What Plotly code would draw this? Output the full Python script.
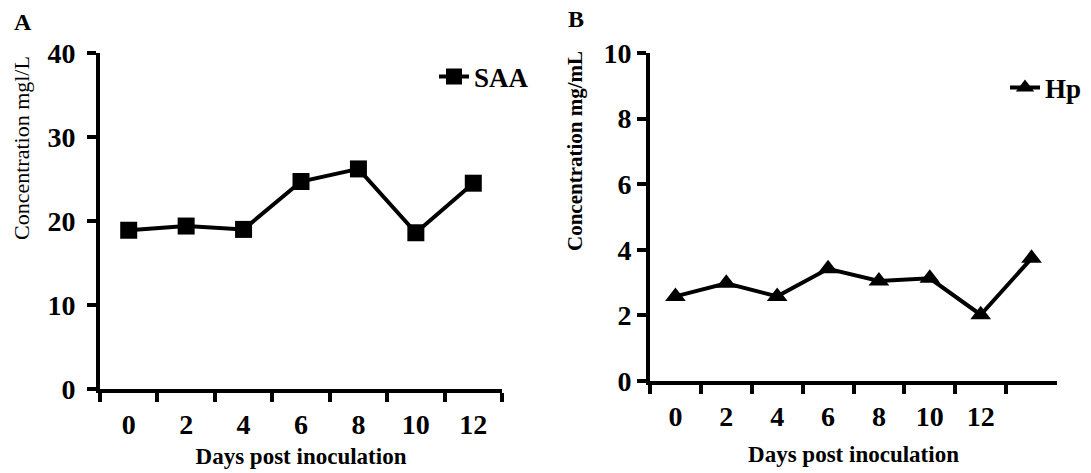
import plotly.graph_objects as go

days_a = ["0", "2", "4", "6", "8", "10", "12"]
saa = [18.9, 19.4, 19.0, 24.7, 26.2, 18.6, 24.5]

days_b = ["0", "2", "4", "6", "8", "10", "12", " "]
hp = [2.58, 2.98, 2.58, 3.42, 3.05, 3.13, 2.02, 3.74]

W, H = 1091, 473
FONT = "Liberation Serif"

fig = go.Figure()
fig.add_trace(go.Scatter(
    x=days_a, y=saa, mode="lines+markers", name="SAA", showlegend=True,
    line=dict(color="black", width=4),
    marker=dict(symbol="square", size=17, color="black"),
    xaxis="x", yaxis="y", legend="legend"))
fig.add_trace(go.Scatter(
    x=days_b, y=hp, mode="lines+markers", name="Hp", showlegend=True,
    line=dict(color="black", width=4),
    marker=dict(symbol="triangle-up", size=18, color="black"),
    xaxis="x2", yaxis="y2", legend="legend2"))

def px_x(p):
    return p / W

def px_y(p):
    return 1 - p / H

common_x = dict(type="category", tickson="boundaries", showline=True, linewidth=4,
                linecolor="black", ticks="outside", ticklen=9, tickwidth=4,
                tickcolor="black", showgrid=False, zeroline=False, automargin=False,
                tickfont=dict(family=FONT, size=28, color="black", weight="bold"),
                ticklabelstandoff=7)
common_y = dict(showline=True, linewidth=4, linecolor="black", ticks="outside",
                ticklen=9, tickwidth=4, tickcolor="black", showgrid=False,
                zeroline=False, automargin=False,
                tickfont=dict(family=FONT, size=28, color="black", weight="bold"))

fig.update_layout(
    width=W, height=H, margin=dict(l=0, r=0, t=0, b=0),
    plot_bgcolor="white", paper_bgcolor="white", showlegend=True,
    xaxis=dict(common_x, domain=[px_x(100), px_x(502)], anchor="y",
               range=[-0.5, 6.5],
               title=dict(text="<b>Days post inoculation</b>", standoff=10,
                          font=dict(family=FONT, size=23, color="black"))),
    yaxis=dict(common_y, domain=[px_y(389), px_y(53)], anchor="x",
               range=[0, 40], tickvals=[0, 10, 20, 30, 40], ticklabelstandoff=6),
    xaxis2=dict(common_x, domain=[px_x(650), px_x(1057)], anchor="y2",
                range=[-0.5, 7.5],
                title=dict(text="<b>Days post inoculation</b>", standoff=16,
                           font=dict(family=FONT, size=23, color="black"))),
    yaxis2=dict(common_y, domain=[px_y(381), px_y(53)], anchor="x2",
                range=[0, 10], tickvals=[0, 2, 4, 6, 8, 10], ticklabelstandoff=0),
    legend=dict(x=px_x(434), y=px_y(77), xanchor="left", yanchor="middle",
                bgcolor="rgba(0,0,0,0)", itemwidth=30,
                font=dict(family=FONT, size=27, color="black", weight="bold")),
    legend2=dict(x=px_x(1005), y=px_y(88), xanchor="left", yanchor="middle",
                 bgcolor="rgba(0,0,0,0)", itemwidth=30,
                 font=dict(family=FONT, size=27, color="black", weight="bold")),
    annotations=[
        dict(text="<b>A</b>", x=px_x(23), y=px_y(22), xref="paper", yref="paper",
             xanchor="center", yanchor="middle",
             showarrow=False, font=dict(family=FONT, size=24, color="black")),
        dict(text="<b>B</b>", x=px_x(576), y=px_y(19), xref="paper", yref="paper",
             xanchor="center", yanchor="middle",
             showarrow=False, font=dict(family=FONT, size=24, color="black")),
        dict(text="Concentration mgl/L", x=px_x(21), y=px_y(148), xref="paper",
             yref="paper", xanchor="center", yanchor="middle", textangle=-90,
             showarrow=False, font=dict(family=FONT, size=22, color="black")),
        dict(text="<b>Concentration mg/mL</b>", x=px_x(575), y=px_y(151), xref="paper",
             yref="paper", xanchor="center", yanchor="middle", textangle=-90,
             showarrow=False, font=dict(family=FONT, size=21, color="black")),
    ],
)

fig.write_html("out.html", config={"displayModeBar": False},
               post_script="document.body.style.margin='0';document.body.style.overflow='hidden';")
